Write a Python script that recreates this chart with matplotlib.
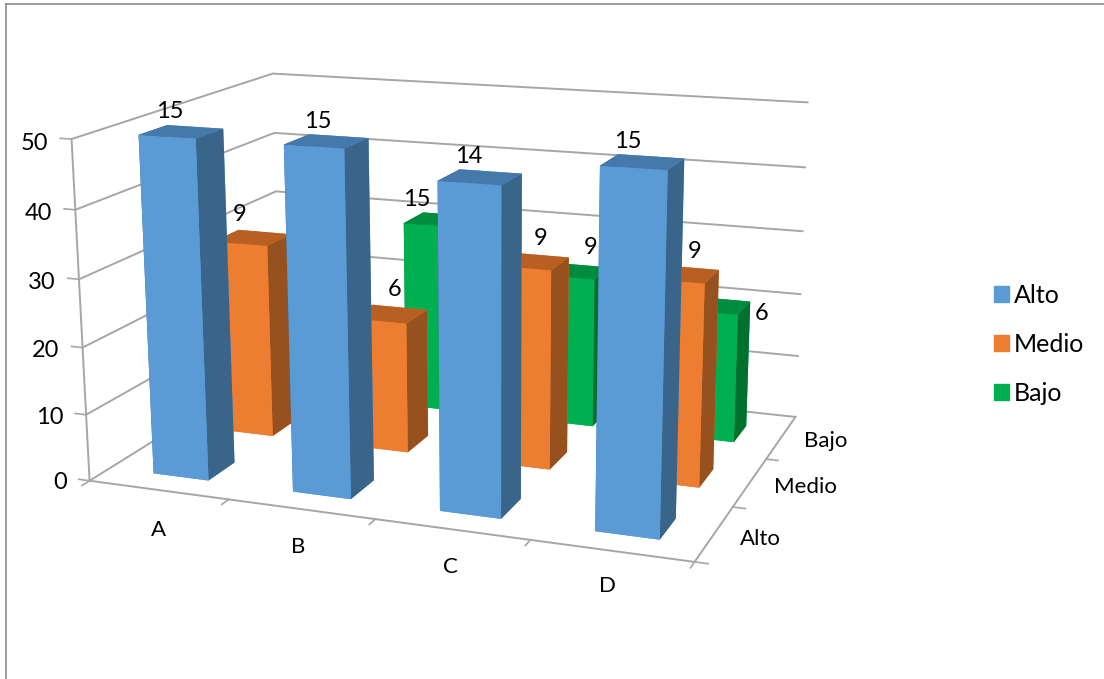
import matplotlib
matplotlib.use("Agg")
import matplotlib.pyplot as plt
from matplotlib.lines import Line2D
from matplotlib.patches import Patch

plt.rcParams['font.family'] = ['Lato', 'DejaVu Sans']

categories = ['A', 'B', 'C', 'D']
series_names = ['Alto', 'Medio', 'Bajo']
z_ticks = [0, 10, 20, 30, 40, 50]

# bar heights read against the 0-50 axis, the printed labels do not match them
alto = [50, 50, 46.5, 50]
medio = [30, 20, 30, 30]
bajo = [None, 30, 23.5, 20]

alto_labels = ['15', '15', '14', '15']
medio_labels = ['9', '6', '9', '9']
bajo_labels = ['', '15', '9', '6']

# where each printed label sits relative to the top of its bar (x units, z units)
shift_x = [[0.03, 0.03, 0, -0.04], [0, 0.12, 0.13, 0.13], [0, -0.1, 0.17, 0.36]]
shift_z = [[3.6, 3.5, 3.6, 3.3], [4.5, 5, 4.6, 4.4], [0, 4, 5, 0.5]]
# nudges for the category names under the floor
cat_dx = [0.04, -0.05, -0.1, -0.17]
cat_dy = [0.03, 0.08, 0.1, 0.14]

front = ['#5B9BD5', '#ED7D31', '#00B050']
top = ['#4578AB', '#B85F22', '#008C3F']
side = ['#3A658B', '#96511E', '#00702F']
grid = '#A6A6A6'
FS = 17

fig = plt.figure(figsize=(11.04, 6.79), dpi=100)
ax = fig.add_axes([-0.0964, -0.0698, 1.0, 1.26], projection='3d')
ax.computed_zorder = False
# camera fitted to the corners of the box in the picture
ax.set_proj_type('persp', focal_length=0.442)
ax.view_init(elev=14.53, azim=-69.19, roll=0.28)
ax.set_box_aspect((4, 2.85, 2.234), zoom=0.927)
ax.set_xlim(0, 4, view_margin=0)
ax.set_ylim(0, 3, view_margin=0)
ax.set_zlim(0, 50, view_margin=0)
ax.set_axis_off()

# walls and gridlines
for z in z_ticks:
    ax.plot([0, 0, 4], [0, 3, 3], [z, z, z], color=grid, lw=1.4, zorder=1)
    ax.plot([-0.08, 0], [0, 0], [z, z], color=grid, lw=1.2, zorder=1)
    ax.text(-0.17, 0, z - 0.8, str(z), ha='right', va='center', fontsize=FS, zorder=50)
ax.plot([0, 0], [0, 0], [0, 50], color=grid, lw=1.4, zorder=1)
ax.plot([0, 4, 4], [0, 0, 3], [0, 0, 0], color=grid, lw=1.4, zorder=1)

for i, name in enumerate(categories):
    ax.plot([i, i], [0, -0.1], [0, 0], color=grid, lw=1.2, zorder=1)
    ax.text(i + 0.8 + cat_dx[i], -0.68 + cat_dy[i], 0, name, ha='center', va='center',
            fontsize=FS - 1, zorder=50)
ax.plot([4, 4], [0, -0.1], [0, 0], color=grid, lw=1.2, zorder=1)

for j, name in enumerate(series_names):
    ax.plot([4, 4.08], [j, j], [0, 0], color=grid, lw=1.2, zorder=1)
    ax.text(4.16, j + 0.47, 0, name, ha='left', va='center', fontsize=FS - 1, zorder=50)

# bars, back row first and left to right so the overlaps come out right
heights = [alto, medio, bajo]
labels = [alto_labels, medio_labels, bajo_labels]
order = 10
for j in [2, 1, 0]:
    for i in range(4):
        h = heights[j][i]
        if h is None:
            continue
        x0, y0 = i + 0.32, j + 0.28
        # face order of bar3d: bottom, top, front, back, left, right
        colors = [front[j], top[j], front[j], front[j], side[j], side[j]]
        ax.bar3d(x0, y0, 0, 0.4, 0.39, h, color=colors, shade=False,
                 linewidth=0, zorder=order)
        order += 1
        ax.text(x0 + 0.2 + shift_x[j][i], y0, h + shift_z[j][i], labels[j][i],
                ha='center', va='center', fontsize=FS, zorder=50)

handles = [Patch(color=c, label=n) for c, n in zip(front, series_names)]
fig.legend(handles=handles, loc='center left', bbox_to_anchor=(0.88, 0.493), frameon=False,
           fontsize=18, handlelength=0.6, handleheight=0.6, handletextpad=0.2, labelspacing=1.05)

# chart frame, only the top and left sides are in view
fig.add_artist(Line2D([6 / 1104, 6 / 1104], [0, 1 - 4 / 679], color='#8C8C8C', lw=1.2))
fig.add_artist(Line2D([6 / 1104, 1], [1 - 4 / 679, 1 - 4 / 679], color='#8C8C8C', lw=1.2))

fig.savefig('out.png', dpi=100)
